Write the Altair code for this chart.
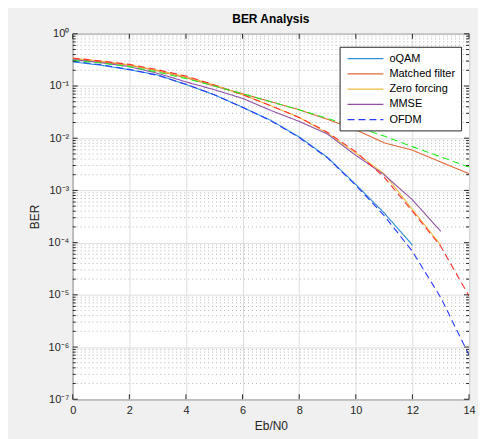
import altair as alt
import pandas as pd

FONT = "Liberation Sans"

# ---------------- data ----------------
x_vals = list(range(15))

series_names = ["oQAM", "Matched filter", "Zero forcing", "MMSE", "OFDM"]
series_colors = ["#2f8fd6", "#e0693a", "#f0bb45", "#9152a6", "#2a3cff"]
series_dash = [[1, 0], [1, 0], [1, 0], [1, 0], [7, 4]]

oqam = [0.29, 0.25, 0.205, 0.163, 0.107, 0.068, 0.039, 0.022, 0.0106, 0.0043, 0.0013, 0.00037, 0.00009]
matched = [0.33, 0.29, 0.25, 0.195, 0.145, 0.1, 0.071, 0.05, 0.035, 0.023, 0.0145, 0.0082, 0.0059, 0.0035, 0.0021]
zero_forcing = [0.34, 0.30, 0.255, 0.2, 0.15, 0.105, 0.068, 0.042, 0.025, 0.0125, 0.0052, 0.0021, 0.00043, 0.00009]
mmse = [0.32, 0.28, 0.235, 0.175, 0.12, 0.085, 0.058, 0.034, 0.021, 0.012, 0.0047, 0.002, 0.00066, 0.000165]
ofdm = [0.30, 0.255, 0.208, 0.16, 0.108, 0.068, 0.039, 0.0215, 0.0103, 0.0042, 0.00125, 0.00033, 0.000068, 0.0000089, 0.0000007]

ref_red = [0.345, 0.30, 0.26, 0.205, 0.155, 0.105, 0.068, 0.042, 0.025, 0.013, 0.0055, 0.0018, 0.0004, 0.000085, 0.0000095]
ref_green = [0.31, 0.275, 0.235, 0.185, 0.139, 0.1, 0.071, 0.05, 0.035, 0.024, 0.0165, 0.011, 0.0069, 0.0044, 0.0028]

y_tick_labels = ["10⁰", "10⁻¹", "10⁻²", "10⁻³", "10⁻⁴", "10⁻⁵", "10⁻⁶", "10⁻⁷"]
y_major = [10.0 ** (-k) for k in range(0, 8)]
y_minor = [m * 10.0 ** k for k in range(-7, 0) for m in range(2, 10)]
x_ticks = [0, 2, 4, 6, 8, 10, 12, 14]

# ---------------- tables ----------------
rows = []
for name, vals in zip(series_names, [oqam, matched, zero_forcing, mmse, ofdm]):
    for xv, yv in zip(x_vals, vals):
        rows.append({"x": xv, "ber": yv, "series": name})
main_df = pd.DataFrame(rows)

red_df = pd.DataFrame({"x": x_vals, "ber": ref_red})
green_df = pd.DataFrame({"x": x_vals, "ber": ref_green})

ymaj_df = pd.DataFrame({"ber": y_major})
ymin_df = pd.DataFrame({"ber": y_minor})
xt_df = pd.DataFrame({"x": x_ticks})

W, H = 398, 367
AX = "#262626"

xscale = alt.Scale(domain=[0, 14], nice=False, zero=False)
yscale = alt.Scale(type="log", domain=[1e-7, 1], nice=False)

# label expression built from the tick label list
label_expr = ""
for v, lab in zip(y_major, y_tick_labels):
    label_expr += f"datum.value > {v * 0.5} ? '{lab}' : "
label_expr += "''"

y_axis = alt.Axis(
    title="BER",
    values=y_major,
    labelExpr=label_expr,
    ticks=False,
    domain=False,
    labelPadding=4,
    labelFontSize=11,
    labelFlush=False,
    titlePadding=6,
    gridColor="#dedede",
)
x_axis = alt.Axis(
    title="Eb/N0",
    values=x_ticks,
    ticks=False,
    domain=False,
    labelPadding=5,
    labelFontSize=11,
    labelFlush=False,
    titlePadding=5,
    gridColor="#dedede",
)

X = alt.X("x:Q", scale=xscale, axis=x_axis)
Y = alt.Y("ber:Q", scale=yscale, axis=y_axis)

leg = alt.Legend(
    title=None,
    orient="none",
    legendX=268,
    legendY=13,
    direction="vertical",
    fillColor="white",
    strokeColor=AX,
    padding=5,
    symbolType="M-0.667,0H5.333",
    symbolSize=144,
    symbolStrokeWidth=1.2,
    labelFont=FONT,
    labelFontSize=11,
    labelColor="#000000",
    labelOffset=31,
    rowPadding=3.3,
    cornerRadius=0,
)

minor_grid = alt.Chart(ymin_df).mark_rule(color="#b4b4b4", strokeWidth=1, strokeDash=[1, 3]).encode(
    y=Y, x=alt.value(0), x2=alt.value(W),
)

lines = alt.Chart(main_df).mark_line(strokeWidth=1.1, clip=True).encode(
    x=X,
    y=Y,
    color=alt.Color("series:N", scale=alt.Scale(domain=series_names, range=series_colors), legend=leg),
    strokeDash=alt.StrokeDash("series:N", scale=alt.Scale(domain=series_names, range=series_dash), legend=leg),
)

red_line = alt.Chart(red_df).mark_line(strokeWidth=1.1, strokeDash=[7, 4], color="#ff3030", clip=True).encode(x=X, y=Y)
green_line = alt.Chart(green_df).mark_line(strokeWidth=1.1, strokeDash=[7, 4], color="#22ee22", clip=True).encode(x=X, y=Y)

def yticks(df, x0, x1):
    return alt.Chart(df).mark_rule(color=AX, strokeWidth=1).encode(y=Y, x=alt.value(x0), x2=alt.value(x1))

def xticks(y0, y1):
    return alt.Chart(xt_df).mark_rule(color=AX, strokeWidth=1).encode(x=X, y=alt.value(y0), y2=alt.value(y1))

tick_layers = [
    yticks(ymaj_df, 0, 5),
    yticks(ymin_df, 0, 3),
    yticks(ymaj_df, W, W - 5),
    yticks(ymin_df, W, W - 3),
    xticks(H, H - 5),
    xticks(0, 5),
]

chart = alt.layer(minor_grid, lines, red_line, green_line, *tick_layers).properties(
    width=W,
    height=H,
    padding={"left": 65, "top": 25, "right": 9, "bottom": 39},
    autosize=alt.AutoSizeParams(type="none"),
    background="#f0f0f0",
    title=alt.Title("BER Analysis", font=FONT, fontSize=12, fontWeight="bold", color="#000000",
                    offset=2, anchor="middle"),
).configure_view(
    stroke=AX, strokeWidth=1, fill="white"
).configure_axis(
    labelFont=FONT, titleFont=FONT, labelColor=AX, titleColor=AX,
    titleFontSize=12, titleFontWeight="normal",
)

chart.save("out.html", embed_options={"renderer": "svg", "actions": False})
